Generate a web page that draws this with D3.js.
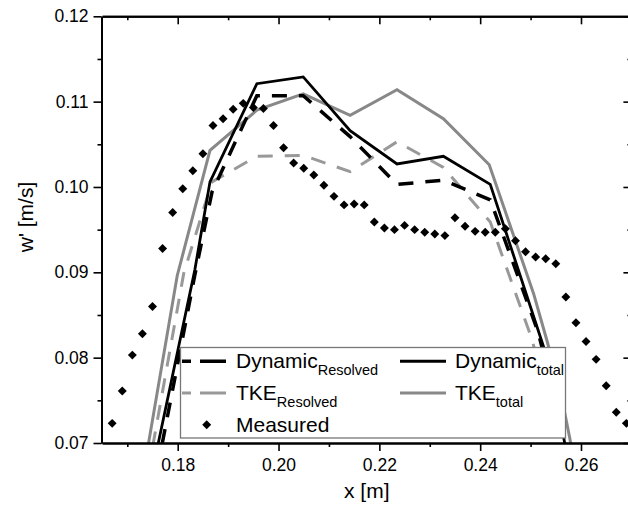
<!DOCTYPE html>
<html><head><meta charset="utf-8">
<script src="https://cdn.jsdelivr.net/npm/d3@7"></script>
<style>
html,body{margin:0;padding:0;background:#fff;}
svg text{font-family:"Liberation Sans",Arial,Helvetica,sans-serif;fill:#000;}
</style></head>
<body><svg id="chart" width="628" height="512"></svg>
<script>
// ---- data ----
const xMajorTicks = [0.18, 0.20, 0.22, 0.24, 0.26];
const xMinorTicks = [0.17, 0.19, 0.21, 0.23, 0.25];
const yMajorTicks = [0.07, 0.08, 0.09, 0.10, 0.11, 0.12];
const yMinorTicks = [0.075, 0.085, 0.095, 0.105, 0.115];

const dynResX = [0.1759, 0.1834, 0.1868, 0.1957, 0.2049, 0.2142, 0.2235, 0.2327, 0.2420, 0.2515, 0.2582];
const dynResY = [0.0668, 0.0897, 0.0994, 0.1107, 0.1107, 0.1059, 0.1003, 0.1008, 0.0985, 0.0830, 0.0672];

const dynTotX = [0.1749, 0.1834, 0.1864, 0.1957, 0.2049, 0.2142, 0.2235, 0.2327, 0.2420, 0.2539, 0.2578];
const dynTotY = [0.0665, 0.0903, 0.1006, 0.1121, 0.1129, 0.1066, 0.1027, 0.1036, 0.1003, 0.0789, 0.0668];

const tkeResX = [0.1741, 0.1812, 0.1868, 0.1957, 0.2049, 0.2142, 0.2235, 0.2327, 0.2420, 0.2503, 0.2566];
const tkeResY = [0.0665, 0.0899, 0.1006, 0.1036, 0.1037, 0.1018, 0.1053, 0.1023, 0.0959, 0.0821, 0.0672];

const tkeTotX = [0.1730, 0.1799, 0.1864, 0.1957, 0.2049, 0.2142, 0.2235, 0.2327, 0.2418, 0.2506, 0.2532, 0.2558, 0.2578, 0.2588];
const tkeTotY = [0.0658, 0.0896, 0.1043, 0.1090, 0.1109, 0.1084, 0.1114, 0.1080, 0.1026, 0.0875, 0.0821, 0.0764, 0.0705, 0.0668];

const measX = [0.167, 0.169, 0.171, 0.173, 0.175, 0.177, 0.179, 0.181, 0.183, 0.185,
               0.187, 0.189, 0.191, 0.193, 0.195, 0.197, 0.199, 0.201, 0.203, 0.205,
               0.207, 0.209, 0.211, 0.213, 0.215, 0.217, 0.219, 0.221, 0.223, 0.225,
               0.227, 0.229, 0.231, 0.233, 0.235, 0.237, 0.239, 0.241, 0.243, 0.245,
               0.247, 0.249, 0.251, 0.253, 0.255, 0.257, 0.259, 0.261, 0.263, 0.265,
               0.267, 0.269];
const measY = [0.0723, 0.0761, 0.0803, 0.0828, 0.0860, 0.0928, 0.0970, 0.0998, 0.1019, 0.1039,
               0.1072, 0.1080, 0.1091, 0.1098, 0.1093, 0.1092, 0.1072, 0.1046, 0.1028, 0.1022,
               0.1014, 0.1002, 0.0989, 0.0979, 0.0980, 0.0979, 0.0959, 0.0952, 0.0950, 0.0955,
               0.0950, 0.0947, 0.0945, 0.0943, 0.0964, 0.0954, 0.0948, 0.0947, 0.0947, 0.0951,
               0.0937, 0.0924, 0.0918, 0.0916, 0.0910, 0.0871, 0.0841, 0.0819, 0.0798, 0.0767,
               0.0736, 0.0723];

const legendNames = ["Dynamic", "TKE", "Measured", "Dynamic", "TKE"];
const legendSubs = ["Resolved", "Resolved", "", "total", "total"];

// ---- layout ----
const svg = d3.select("#chart");
const L = 102.1, R = 631.4, T = 16.3, B = 443;
const x = d3.scaleLinear().domain([0.165, 0.27]).range([L, R]);
const y = d3.scaleLinear().domain([0.07, 0.12]).range([B, T]);

svg.append("defs").append("clipPath").attr("id", "clip")
  .append("rect").attr("x", L).attr("y", T).attr("width", R - L).attr("height", B - T);

const plot = svg.append("g").attr("clip-path", "url(#clip)");
const line = d3.line().x(d => x(d[0])).y(d => y(d[1]));
const zip = (a, b) => a.map((v, i) => [v, b[i]]);

const series = [
  {xs: tkeResX, ys: tkeResY, color: "#999", w: 3, dash: "15,12"},
  {xs: tkeTotX, ys: tkeTotY, color: "#888", w: 3, dash: null},
  {xs: dynResX, ys: dynResY, color: "#000", w: 3.5, dash: "15,12"},
  {xs: dynTotX, ys: dynTotY, color: "#000", w: 2.8, dash: null}
];
series.forEach(s => {
  plot.append("path").datum(zip(s.xs, s.ys))
    .attr("d", line).attr("fill", "none")
    .attr("stroke", s.color).attr("stroke-width", s.w)
    .attr("stroke-dasharray", s.dash)
    .attr("stroke-linejoin", "miter");
});

const diamond = d3.symbol().type(d3.symbolSquare).size(40);
plot.selectAll("path.meas").data(zip(measX, measY)).join("path")
  .attr("class", "meas")
  .attr("d", diamond)
  .attr("transform", d => `translate(${x(d[0])},${y(d[1])}) rotate(45)`)
  .attr("fill", "#000");

// ---- axes ----
const fmt = d3.format(".2f");
function styleAxis(g) {
  g.selectAll(".domain").attr("stroke", "#000").attr("stroke-width", 2);
  g.selectAll(".tick line").attr("stroke", "#000").attr("stroke-width", 1.6);
  g.selectAll(".tick text").style("font-size", "17.5px").attr("fill", "#000");
}
// bottom
svg.append("g").attr("transform", `translate(0,${B})`)
  .call(d3.axisBottom(x).tickValues(xMajorTicks).tickFormat(fmt).tickSize(8).tickSizeOuter(0).tickPadding(8))
  .call(styleAxis).call(g => g.attr("font-family", null));
svg.append("g").attr("transform", `translate(0,${B})`)
  .call(d3.axisBottom(x).tickValues(xMinorTicks).tickFormat("").tickSize(4).tickSizeOuter(0))
  .call(styleAxis);
// top
svg.append("g").attr("transform", `translate(0,${T})`)
  .call(d3.axisTop(x).tickValues(xMajorTicks).tickFormat("").tickSize(-8).tickSizeOuter(0))
  .call(styleAxis);
svg.append("g").attr("transform", `translate(0,${T})`)
  .call(d3.axisTop(x).tickValues(xMinorTicks).tickFormat("").tickSize(-4).tickSizeOuter(0))
  .call(styleAxis);
// left
svg.append("g").attr("transform", `translate(${L - 0.6},0)`)
  .call(d3.axisLeft(y).tickValues(yMajorTicks).tickFormat(fmt).tickSize(8).tickSizeOuter(0).tickPadding(5))
  .call(styleAxis).call(g => g.attr("font-family", null));
svg.append("g").attr("transform", `translate(${L - 0.6},0)`)
  .call(d3.axisLeft(y).tickValues(yMinorTicks).tickFormat("").tickSize(4).tickSizeOuter(0))
  .call(styleAxis);
// right
svg.append("g").attr("transform", `translate(${R},0)`)
  .call(d3.axisRight(y).tickValues(yMajorTicks).tickFormat("").tickSize(-8).tickSizeOuter(0))
  .call(styleAxis);
svg.append("g").attr("transform", `translate(${R},0)`)
  .call(d3.axisRight(y).tickValues(yMinorTicks).tickFormat("").tickSize(-4).tickSizeOuter(0))
  .call(styleAxis);
svg.selectAll("g").filter(function(){return this.getAttribute("font-family");}).attr("font-family", null);

// axis titles
svg.append("text").attr("x", (L + R) / 2).attr("y", 498)
  .attr("text-anchor", "middle").style("font-size", "21px").text("x [m]");
svg.append("text").attr("transform", "translate(33,217) rotate(-90)")
  .attr("text-anchor", "middle").style("font-size", "21px").text("w' [m/s]");

// ---- legend ----
const lg = svg.append("g");
lg.append("rect").attr("x", 180.5).attr("y", 347.5).attr("width", 385).attr("height", 90.5)
  .attr("fill", "#fff").attr("stroke", "#777").attr("stroke-width", 1.3);

const legendItems = [
  {i: 0, lx: 182, tx: 236, row: 0, color: "#000", w: 3.5, dash: "26,9", off: 17},
  {i: 1, lx: 182, tx: 236, row: 1, color: "#999", w: 3, dash: "26,9", off: 17},
  {i: 2, lx: 182, tx: 236, row: 2, marker: true},
  {i: 3, lx: 400, tx: 455, row: 0, color: "#000", w: 3, dash: null},
  {i: 4, lx: 400, tx: 455, row: 1, color: "#888", w: 3, dash: null}
];
legendItems.forEach(it => {
  const base = 368.3 + it.row * 31.7;
  const ly = base - 7;
  if (it.marker) {
    lg.append("path").attr("d", diamond)
      .attr("transform", `translate(206.7,${ly}) rotate(45)`).attr("fill", "#000");
  } else {
    lg.append("line").attr("x1", it.lx).attr("x2", it.lx + 46).attr("y1", ly).attr("y2", ly)
      .attr("stroke", it.color).attr("stroke-width", it.w)
      .attr("stroke-dasharray", it.dash).attr("stroke-dashoffset", it.off || 0);
  }
  const t = lg.append("text").attr("x", it.tx).attr("y", base).style("font-size", "21px");
  t.append("tspan").text(legendNames[it.i]);
  if (legendSubs[it.i]) {
    t.append("tspan").attr("dy", 6.7).style("font-size", "14.5px").text(legendSubs[it.i]);
  }
});
</script></body></html>
